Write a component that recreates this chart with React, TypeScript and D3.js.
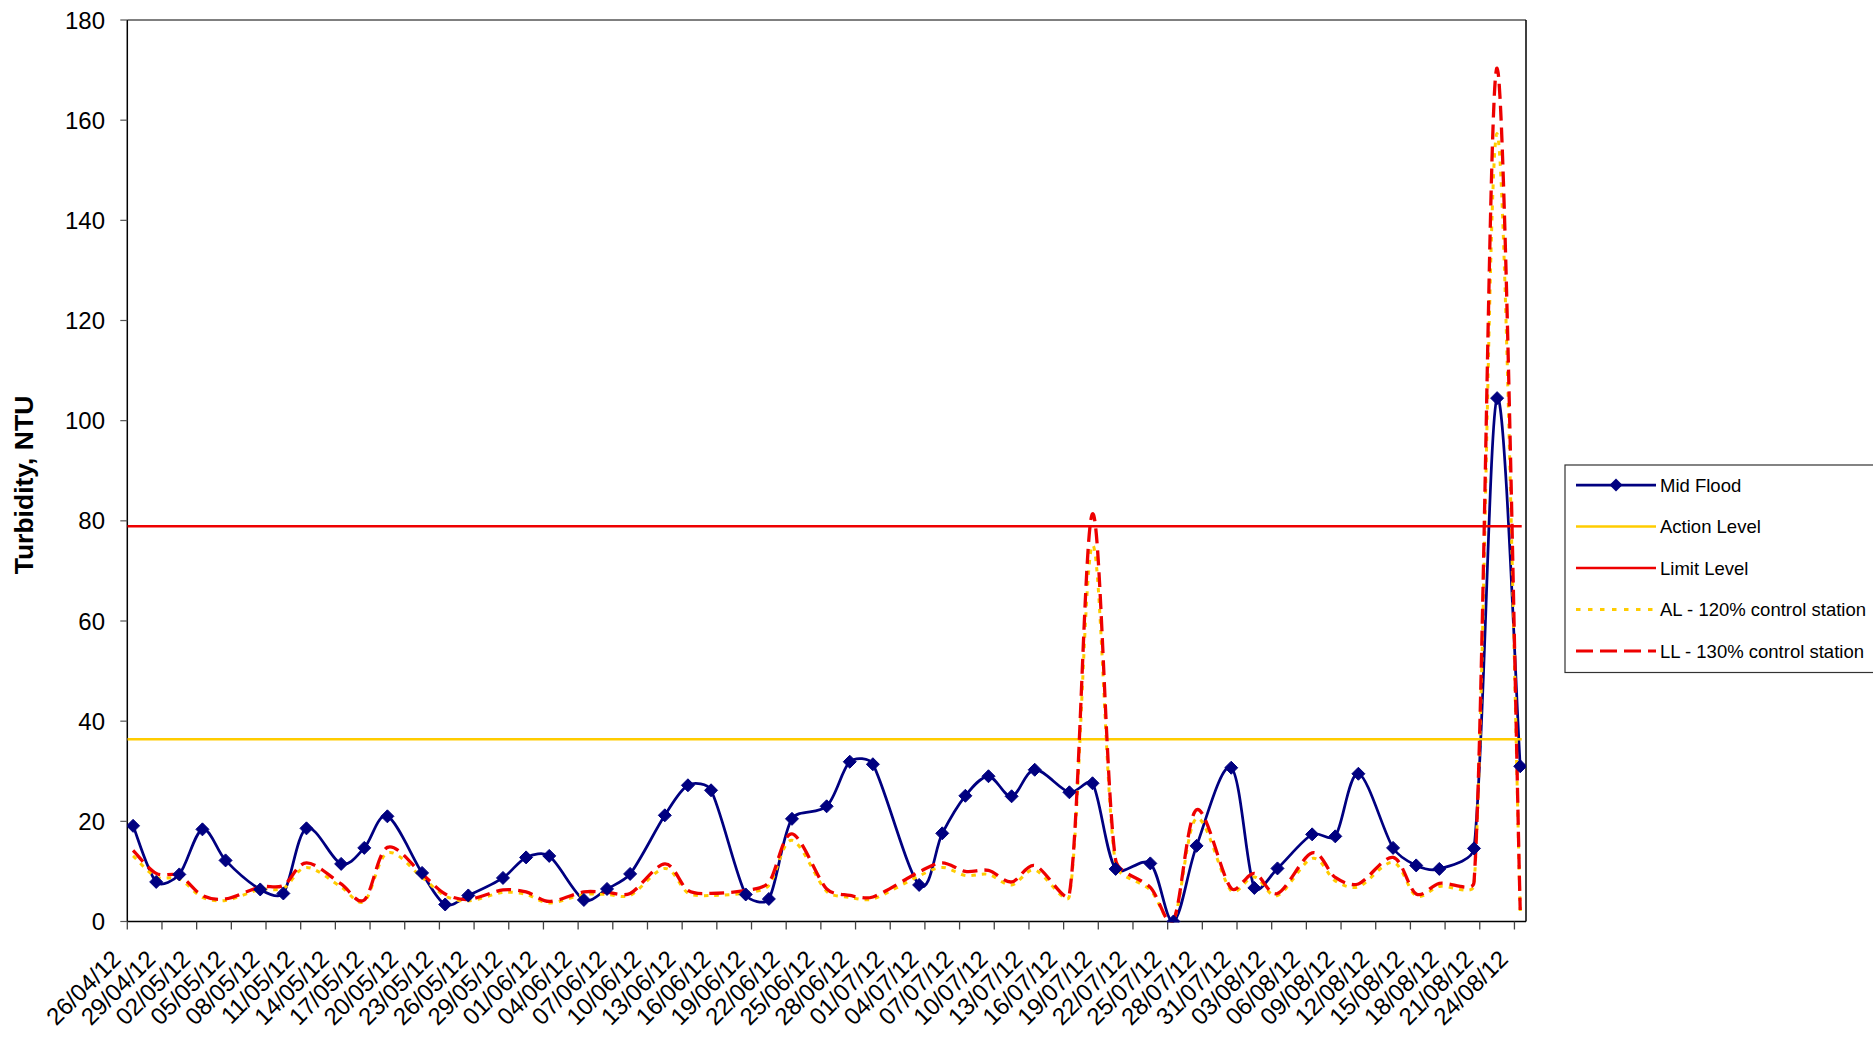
import React from "react";
import * as d3 from "d3";

// ---- data ----
const sampleDates = [
  "26/04/12","28/04/12","30/04/12",
  "02/05/12","04/05/12","07/05/12","09/05/12","11/05/12","14/05/12","16/05/12","18/05/12","21/05/12","23/05/12","25/05/12","28/05/12","30/05/12",
  "01/06/12","04/06/12","06/06/12","08/06/12","11/06/12","13/06/12","15/06/12","18/06/12","20/06/12","22/06/12","25/06/12","27/06/12","29/06/12",
  "03/07/12","05/07/12","07/07/12","09/07/12","11/07/12","13/07/12","16/07/12","18/07/12","20/07/12","23/07/12","25/07/12","27/07/12","30/07/12",
  "01/08/12","03/08/12","06/08/12","08/08/12","10/08/12","13/08/12","15/08/12","17/08/12","20/08/12","22/08/12","24/08/12",
];

const midFlood = [
  19.1, 7.9, 9.4,
  18.4, 12.2, 6.4, 5.6, 18.6, 11.5, 14.7, 21.0, 9.7, 3.4, 5.2, 8.7, 12.8,
  13.1, 4.3, 6.5, 9.5, 21.2, 27.2, 26.2, 5.4, 4.5, 20.5, 23.0, 31.9, 31.4,
  7.3, 17.6, 25.1, 29.0, 25.0, 30.3, 25.8, 27.6, 10.5, 11.6, 0.0, 15.1, 30.7,
  6.7, 10.6, 17.4, 17.0, 29.5, 14.7, 11.2, 10.5, 14.6, 104.5, 31.0,
];

const al120 = [
  13.1, 8.9, 8.5,
  4.8, 4.2, 6.4, 6.6, 10.8, 6.9, 4.0, 13.7, 8.8, 5.1, 4.1, 5.8, 5.4,
  3.7, 5.4, 5.4, 5.2, 10.6, 5.7, 5.2, 5.7, 7.2, 16.2, 6.0, 4.8, 4.5,
  9.1, 10.8, 9.2, 9.4, 7.3, 10.3, 5.1, 75.1, 11.4, 6.3, 0.3, 20.6, 6.1,
  8.9, 5.2, 12.6, 8.1, 6.9, 11.8, 5.1, 7.0, 7.2, 157.3, 2.1,
];

const ll130 = [
  14.2, 9.6, 9.2,
  5.2, 4.5, 6.9, 7.2, 11.7, 7.5, 4.3, 14.8, 9.5, 5.5, 4.4, 6.3, 5.9,
  4.0, 5.9, 5.8, 5.6, 11.5, 6.2, 5.6, 6.2, 7.8, 17.5, 6.5, 5.2, 4.9,
  9.9, 11.7, 10.0, 10.2, 7.9, 11.2, 5.5, 81.4, 12.3, 6.8, 0.3, 22.3, 6.6,
  9.6, 5.6, 13.7, 8.8, 7.5, 12.8, 5.5, 7.6, 7.8, 170.4, 2.3,
];

const actionLevel = 36.4;
const limitLevel = 78.9;

const axisStart = "26/04/12";
const axisEnd = "25/08/12";
const yTicks = [0, 20, 40, 60, 80, 100, 120, 140, 160, 180];

const legendLabels = [
  "Mid Flood",
  "Action Level",
  "Limit Level",
  "AL - 120% control station",
  "LL - 130% control station",
];

// ---- layout ----
const W = 1873;
const H = 1038;
const left = 127.3;
const right = 1526;
const top = 20;
const bottom = 921.5;

const NAVY = "#000080";
const GOLD = "#FFCC00";
const RED = "#EE0000";
const FONT = "'Liberation Sans', Arial, Helvetica, sans-serif";

const parse = d3.utcParse("%d/%m/%y");
const fmt = d3.utcFormat("%d/%m/%y");

// Excel-like smoothed line: Catmull-Rom (1/6) tangents, with control arms
// limited relative to the length of the segment they belong to.
function smoothPath(pts: [number, number][], k = 0.32): string {
  const p = d3.path();
  const n = pts.length;
  if (!n) return "";
  p.moveTo(pts[0][0], pts[0][1]);
  const cap = (vx: number, vy: number, max: number): [number, number] => {
    const len = Math.hypot(vx, vy);
    if (len > max && len > 0) {
      const s = max / len;
      return [vx * s, vy * s];
    }
    return [vx, vy];
  };
  for (let i = 0; i < n - 1; i++) {
    const p0 = pts[Math.max(i - 1, 0)];
    const p1 = pts[i];
    const p2 = pts[i + 1];
    const p3 = pts[Math.min(i + 2, n - 1)];
    const seg = Math.hypot(p2[0] - p1[0], p2[1] - p1[1]);
    const t1 = cap((p2[0] - p0[0]) / 6, (p2[1] - p0[1]) / 6, seg * k);
    const t2 = cap((p3[0] - p1[0]) / 6, (p3[1] - p1[1]) / 6, seg * k);
    p.bezierCurveTo(p1[0] + t1[0], p1[1] + t1[1], p2[0] - t2[0], p2[1] - t2[1], p2[0], p2[1]);
  }
  return p.toString();
}

export default function App() {
  const x = d3
    .scaleUtc()
    .domain([parse(axisStart) as Date, parse(axisEnd) as Date])
    .range([left, right]);
  const y = d3.scaleLinear().domain([0, 180]).range([bottom, top]);

  const dates = sampleDates.map((s) => d3.utcHour.offset(parse(s) as Date, 12));
  const xTicks = d3.utcDay.range(parse(axisStart) as Date, parse(axisEnd) as Date, 3);

  const pts = (vals: number[]) => dates.map((d, i) => [x(d), y(vals[i])] as [number, number]);

  const lx1 = x(parse(axisStart) as Date);
  const lx2 = x(dates[dates.length - 1]) + 1.5;

  const diamond = (r: number) => `M0,${-r}L${r},0L0,${r}L${-r},0Z`;

  const legX1 = 1576;
  const legX2 = 1656;
  const legY0 = 485;
  const legStep = 41.5;

  return (
    <svg
      width={W}
      height={H}
      style={{ position: "absolute", left: 0, top: 0, background: "#fff" }}
      fontFamily={FONT}
    >
      <defs>
        <clipPath id="plotclip">
          <rect x={left} y={top} width={right - left} height={bottom - top + 1} />
        </clipPath>
      </defs>
      <rect x={0} y={0} width={W} height={H} fill="#fff" />

      {/* plot border */}
      <line x1={left} y1={top} x2={right} y2={top} stroke="#000" strokeWidth={1} />
      <line x1={right} y1={top} x2={right} y2={bottom} stroke="#000" strokeWidth={1.5} />

      {/* y axis */}
      <line x1={left} y1={top} x2={left} y2={bottom} stroke="#000" strokeWidth={1.5} />
      {yTicks.map((t) => (
        <g key={t}>
          <line x1={left - 7} x2={left} y1={y(t)} y2={y(t)} stroke="#555" strokeWidth={1.2} />
          <text x={105} y={y(t)} dy="0.36em" textAnchor="end" fontSize={24} fill="#000">
            {t}
          </text>
        </g>
      ))}
      <text
        transform={`translate(33,485) rotate(-90)`}
        textAnchor="middle"
        fontSize={26.5}
        fontWeight="bold"
        fill="#000"
      >
        Turbidity, NTU
      </text>

      {/* x axis */}
      <line x1={left} y1={bottom} x2={right} y2={bottom} stroke="#000" strokeWidth={1.5} />
      {xTicks.map((t, i) => (
        <g key={i}>
          <line x1={x(t)} x2={x(t)} y1={bottom} y2={bottom + 8} stroke="#444" strokeWidth={1.3} />
          <text
            transform={`translate(${x(t) - 5},${bottom + 39}) rotate(-45)`}
            textAnchor="end"
            fontSize={24}
            fill="#000"
          >
            {fmt(t)}
          </text>
        </g>
      ))}

      {/* series */}
      <g clipPath="url(#plotclip)">
        <path d={smoothPath(pts(midFlood))} fill="none" stroke={NAVY} strokeWidth={2.75} />
        <line x1={lx1} x2={lx2} y1={y(actionLevel)} y2={y(actionLevel)} stroke={GOLD} strokeWidth={2.5} />
        <line x1={lx1} x2={lx2} y1={y(limitLevel)} y2={y(limitLevel)} stroke={RED} strokeWidth={2.5} />
        <path
          d={smoothPath(pts(al120))}
          fill="none"
          stroke={GOLD}
          strokeWidth={3}
          strokeDasharray="4.5,6"
        />
        <path
          d={smoothPath(pts(ll130))}
          fill="none"
          stroke={RED}
          strokeWidth={3.3}
          strokeDasharray="15,7"
        />
        {dates.map((d, i) => (
          <path
            key={i}
            d={diamond(6.5)}
            transform={`translate(${x(d)},${y(midFlood[i])})`}
            fill={NAVY}
            stroke={NAVY}
            strokeWidth={1}
          />
        ))}
      </g>

      {/* legend */}
      <rect x={1565} y={465} width={400} height={207.5} fill="#fff" stroke="#333" strokeWidth={1.2} />
      {legendLabels.map((lab, i) => {
        const ly = legY0 + i * legStep;
        const stroke = i === 0 ? NAVY : i === 1 || i === 3 ? GOLD : RED;
        const dash = i === 3 ? "4.5,7.5" : i === 4 ? "17,7" : undefined;
        const sw = i === 0 ? 2.75 : i >= 3 ? 3 : 2.5;
        return (
          <g key={lab}>
            <line x1={legX1} x2={legX2} y1={ly} y2={ly} stroke={stroke} strokeWidth={sw} strokeDasharray={dash} />
            {i === 0 && (
              <path d={diamond(6.5)} transform={`translate(${(legX1 + legX2) / 2},${ly})`} fill={NAVY} />
            )}
            <text x={1660} y={ly} dy="0.36em" fontSize={18.5} fill="#000">
              {lab}
            </text>
          </g>
        );
      })}
    </svg>
  );
}
